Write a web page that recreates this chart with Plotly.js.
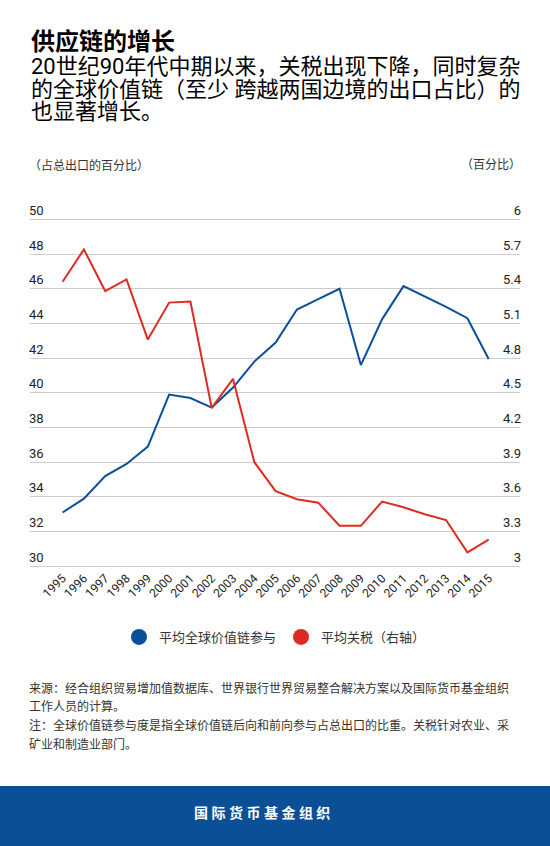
<!DOCTYPE html>
<html>
<head>
<meta charset="utf-8">
<script src="https://cdn.plot.ly/plotly-3.0.1.min.js"></script>
<style>html,body{margin:0;padding:0;background:#fff;}#chart{width:550px;height:846px;}</style>
</head>
<body>
<div id="chart"></div>
<script>
// ---- data ----
const years = [1995,1996,1997,1998,1999,2000,2001,2002,2003,2004,2005,2006,2007,2008,2009,2010,2011,2012,2013,2014,2015];
const gvcParticipation = [33.1,33.9,35.2,35.9,36.9,39.9,39.7,39.15,40.3,41.8,42.9,44.8,45.4,46.0,41.6,44.25,46.15,45.55,44.95,44.3,41.95];
const avgTariff = [5.46,5.74,5.38,5.48,4.96,5.28,5.29,4.37,4.62,3.90,3.65,3.58,3.55,3.35,3.35,3.56,3.51,3.45,3.40,3.12,3.23];
const leftTicks = [30,32,34,36,38,40,42,44,46,48,50];
const leftTickText = ["30","32","34","36","38","40","42","44","46","48","50"];
const rightTicks = [3,3.3,3.6,3.9,4.2,4.5,4.8,5.1,5.4,5.7,6];
const rightTickText = ["3","3.3","3.6","3.9","4.2","4.5","4.8","5.1","5.4","5.7","6"];
const yearLabels = years.map(String);
const seriesNames = ["平均全球价值链参与","平均关税（右轴）"];

const BLUE = "#0B4F9C";
const RED = "#DF2A20";
const FONT = "Roboto, 'Noto Sans CJK SC', sans-serif";

// plot area (px): x 30..520, y 202..568 ; gridlines 50 -> 219, 30 -> 566
const PT = 202, PB = 568, PL = 30, PR = 520;
const LEFT_RANGE = [29.9, 51];
const RIGHT_RANGE = [3 + (LEFT_RANGE[0] - 30) * 0.15, 3 + (LEFT_RANGE[1] - 30) * 0.15];
const py = p => (PB - p) / (PB - PT);
const pxx = p => (p - PL) / (PR - PL);

const traces = [
  {x: years, y: gvcParticipation, type: "scatter", mode: "lines", name: seriesNames[0],
   line: {color: BLUE, width: 2}, yaxis: "y", showlegend: false, hoverinfo: "skip"},
  {x: years, y: avgTariff, type: "scatter", mode: "lines", name: seriesNames[1],
   line: {color: RED, width: 2}, yaxis: "y2", showlegend: false, hoverinfo: "skip"},
  {x: [null], y: [null], type: "scatter", mode: "markers", name: seriesNames[0],
   marker: {color: BLUE, size: 16, symbol: "circle"}, showlegend: true},
  {x: [null], y: [null], type: "scatter", mode: "markers", name: seriesNames[1],
   marker: {color: RED, size: 16, symbol: "circle"}, showlegend: true}
];

const ann = (text, xp, yp, opts) => Object.assign({
  text: text, x: pxx(xp), y: py(yp), xref: "paper", yref: "paper",
  xanchor: "left", yanchor: "middle", showarrow: false,
  font: {family: FONT, size: 12, color: "#333"}
}, opts || {});

const annotations = [
  ann("<b>供应链的增长</b>", 29, 42, {font: {family: FONT, size: 24, color: "#000"}}),
  ann("20世纪90年代中期以来，关税出现下降，同时复杂", 29, 66, {font: {family: FONT, size: 22, color: "#000"}}),
  ann("的全球价值链（至少 跨越两国边境的出口占比）的", 29, 89, {font: {family: FONT, size: 22, color: "#000"}}),
  ann("也显著增长。", 29, 112, {font: {family: FONT, size: 22, color: "#000"}}),
  ann("（占总出口的百分比）", 27, 165, {font: {family: FONT, size: 12, color: "#333"}}),
  ann("（百分比）", 523, 165, {xanchor: "right", font: {family: FONT, size: 12, color: "#333"}}),
  ann("来源：经合组织贸易增加值数据库、世界银行世界贸易整合解决方案以及国际货币基金组织", 27, 688),
  ann("工作人员的计算。", 27, 706),
  ann("注：全球价值链参与度是指全球价值链后向和前向参与占总出口的比重。关税针对农业、采", 27, 725),
  ann("矿业和制造业部门。", 27, 744),
  ann("<b>国 际 货 币 基 金 组 织</b>", 262, 813, {xanchor: "center", font: {family: FONT, size: 14, color: "#fff"}})
];

const layout = {
  width: 550, height: 846,
  margin: {l: PL, r: 550 - PR, t: PT, b: 846 - PB, pad: 0},
  paper_bgcolor: "#fff", plot_bgcolor: "rgba(0,0,0,0)",
  font: {family: FONT, size: 12, color: "#222"},
  showlegend: true,
  legend: {orientation: "h", x: 0.5, xanchor: "center", y: py(637), yanchor: "middle",
           font: {family: FONT, size: 13, color: "#333"}, itemsizing: "trace"},
  xaxis: {range: [1993.47, 2016.47], tickmode: "array", tickvals: years, ticktext: yearLabels,
          tickangle: -45, showgrid: false, zeroline: false, showline: false, ticks: "",
          tickfont: {family: FONT, size: 12, color: "#222"}, fixedrange: true},
  yaxis: {range: LEFT_RANGE, tickmode: "array", tickvals: leftTicks, ticktext: leftTickText,
          showgrid: true, gridcolor: "#cccccc", gridwidth: 1, zeroline: false, showline: false,
          ticks: "", ticklabelposition: "inside top", ticklabelstandoff: -4,
          tickfont: {family: FONT, size: 13, color: "#222"}},
  yaxis2: {range: RIGHT_RANGE, overlaying: "y", side: "right", tickmode: "array", tickvals: rightTicks,
           ticktext: rightTickText, showgrid: false, zeroline: false, showline: false, ticks: "",
           ticklabelposition: "inside top", ticklabelstandoff: -4,
           tickfont: {family: FONT, size: 13, color: "#222"}},
  shapes: [
    {type: "rect", xref: "paper", yref: "paper", x0: pxx(-10), x1: pxx(560), y0: py(786), y1: py(860),
     fillcolor: "#0B4F96", line: {width: 0}, layer: "below"}
  ],
  annotations: annotations
};

Plotly.newPlot("chart", traces, layout, {displayModeBar: false, staticPlot: true});
</script>
</body>
</html>
